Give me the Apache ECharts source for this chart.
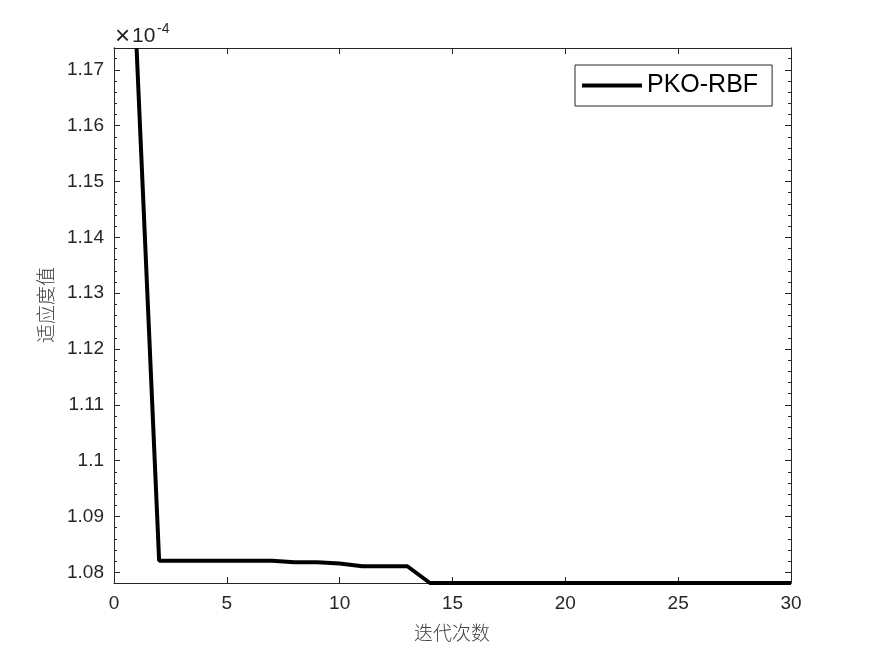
<!DOCTYPE html>
<html>
<head>
<meta charset="utf-8">
<script src="https://cdn.jsdelivr.net/npm/echarts@6/dist/echarts.min.js"></script>
<style>html,body{margin:0;padding:0;background:#fff;}#c{width:875px;height:656px;}</style>
</head>
<body>
<div id="c"></div>
<script>
// Iterations (x) and fitness values (units of 1e-4)
const iterations = [1,2,3,4,5,6,7,8,9,10,11,12,13,14,15,16,17,18,19,20,21,22,23,24,25,26,27,28,29,30];
const fitness = [1.1739,1.0821,1.0821,1.0821,1.0821,1.0821,1.0821,1.0818,1.0818,1.0816,
                 1.0811,1.0811,1.0811,1.0781,1.0781,1.0781,1.0781,1.0781,1.0781,1.0781,
                 1.0781,1.0781,1.0781,1.0781,1.0781,1.0781,1.0781,1.0781,1.0781,1.0781];
const seriesName = 'PKO-RBF';
const xTicks = [0,5,10,15,20,25,30];
const yTicks = [1.08,1.09,1.10,1.11,1.12,1.13,1.14,1.15,1.16,1.17];
const yMin = 1.0781, yMax = 1.1739;
const xLabel = '迭代次数';
const yLabel = '适应度值';

const yMinor = [];
for (let i = 0; i <= 50; i++) {
  const v = Math.round((1.078 + i * 0.002) * 10000) / 10000;
  if (v > yMin && v < yMax) yMinor.push(v);
}

const axisColor = '#262626';
const labelFont = 'Liberation Sans';
const fmt = v => String(parseFloat(Number(v).toFixed(4)));

function yAx(pos, major, showLabel) {
  return {
    type: 'value', position: pos, min: yMin, max: yMax,
    axisLine: {show: true, lineStyle: {color: axisColor, width: 1}},
    axisTick: {show: true, inside: true, length: major ? 6 : 3,
               customValues: major ? yTicks : yMinor,
               lineStyle: {color: axisColor, width: 1}},
    axisLabel: {show: showLabel, customValues: yTicks, formatter: fmt, margin: 10,
                color: axisColor, fontSize: 19, fontFamily: labelFont},
    splitLine: {show: false}
  };
}
function xAx(pos, showLabel) {
  return {
    type: 'value', position: pos, min: 0, max: 30, interval: 5,
    axisLine: {show: true, onZero: false, lineStyle: {color: axisColor, width: 1}},
    axisTick: {show: true, inside: true, length: 6, lineStyle: {color: axisColor, width: 1}},
    axisLabel: {show: showLabel, margin: 11, color: axisColor, fontSize: 19, fontFamily: labelFont,
                showMinLabel: true, showMaxLabel: true},
    splitLine: {show: false}
  };
}

const chart = echarts.init(document.getElementById('c'), null, {renderer: 'canvas'});
chart.setOption({
  backgroundColor: '#ffffff',
  animation: false,
  grid: {left: 114, right: 84, top: 48, bottom: 73, containLabel: false},
  xAxis: [xAx('bottom', true), xAx('top', false)],
  yAxis: [yAx('left', true, true), yAx('left', false, false), yAx('right', true, false), yAx('right', false, false)],
  legend: {
    left: 575, top: 65, padding: [8, 14, 8, 7],
    borderColor: axisColor, borderWidth: 1, borderRadius: 0, backgroundColor: '#fff',
    icon: 'rect', itemWidth: 60, itemHeight: 4,
    textStyle: {fontSize: 25, color: '#000', fontFamily: labelFont},
    data: [seriesName]
  },
  series: [{
    name: seriesName, type: 'line', xAxisIndex: 0, yAxisIndex: 0,
    symbol: 'none', showSymbol: false,
    lineStyle: {color: '#000', width: 4},
    itemStyle: {color: '#000'},
    data: iterations.map((x, i) => [x, fitness[i]])
  }],
  graphic: [
    {type: 'text', x: 115, y: 37, style: {text: '×', font: '26px "Liberation Sans"', fill: axisColor, verticalAlign: 'middle'}},
    {type: 'text', x: 132, y: 36.5, style: {text: '10', font: '21px "Liberation Sans"', fill: axisColor, verticalAlign: 'middle'}},
    {type: 'text', x: 157, y: 29, style: {text: '-4', font: '14px "Liberation Sans"', fill: axisColor, verticalAlign: 'middle'}},
    {type: 'text', x: 452, y: 633, style: {text: xLabel, font: '300 19px "Noto Sans CJK SC"', fill: '#404040', align: 'center', verticalAlign: 'middle'}},
    {type: 'text', x: 46, y: 305, rotation: Math.PI / 2, style: {text: yLabel, font: '300 19px "Noto Sans CJK SC"', fill: '#404040', align: 'center', verticalAlign: 'middle'}}
  ]
});
</script>
</body>
</html>
